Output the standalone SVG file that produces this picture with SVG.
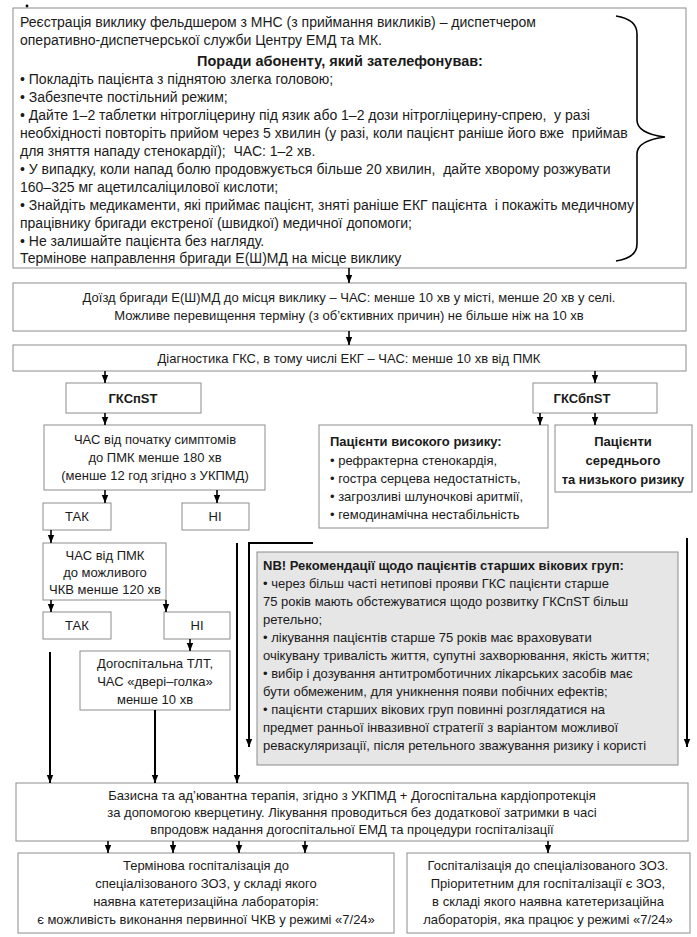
<svg xmlns="http://www.w3.org/2000/svg" width="697" height="937" viewBox="0 0 697 937">
<style>
.box{fill:#fff;stroke:#8c8c8c;stroke-width:1}
.nb{fill:#e6e6e6;stroke:#8c8c8c;stroke-width:1}
text{font-family:"Liberation Sans",Arial,sans-serif;font-size:13px;fill:#1a1a1a}
.t{font-size:14px}
.c{text-anchor:middle}
.b{font-weight:bold}
.h{font-weight:bold;font-size:14.5px}
.ln{stroke:#000;stroke-width:1.6;fill:none}
.lg{stroke:#000;stroke-width:2;fill:none}
</style>
<defs>
<marker id="ah" markerUnits="userSpaceOnUse" markerWidth="9" markerHeight="9" refX="8" refY="4" orient="auto">
<path d="M0,0.8 L8,4 L0,7.2 Z" fill="#000"/>
</marker>
</defs>
<rect width="697" height="937" fill="#fff"/>

<g id="n-top">
<rect class="box" x="13" y="8" width="673" height="260"/>
<circle cx="27" cy="6" r="1.4" fill="#000"/>
<text class="t" x="20" y="27">Реєстрація виклику фельдшером з МНС (з приймання викликів) – диспетчером</text>
<text class="t" x="20" y="45">оперативно-диспетчерської служби Центру ЕМД та МК.</text>
<text class="h c" x="340" y="66">Поради абоненту, який зателефонував:</text>
<text class="t" x="20" y="84">• Покладіть пацієнта з піднятою злегка головою;</text>
<text class="t" x="20" y="102">• Забезпечте постільний режим;</text>
<text class="t" x="20" y="120" xml:space="preserve">• Дайте 1–2 таблетки нітрогліцерину під язик або 1–2 дози нітрогліцерину-спрею,  у разі</text>
<text class="t" x="20" y="138" xml:space="preserve">необхідності повторіть прийом через 5 хвилин (у разі, коли пацієнт раніше його вже  приймав</text>
<text class="t" x="20" y="156" xml:space="preserve">для зняття нападу стенокардії);  ЧАС: 1–2 хв.</text>
<text class="t" x="20" y="174" xml:space="preserve">• У випадку, коли напад болю продовжується більше 20 хвилин,  дайте хворому розжувати</text>
<text class="t" x="20" y="192">160–325 мг ацетилсаліцилової кислоти;</text>
<text class="t" x="20" y="210" xml:space="preserve">• Знайдіть медикаменти, які приймає пацієнт, зняті раніше ЕКГ пацієнта  і покажіть медичному</text>
<text class="t" x="20" y="228">працівнику бригади екстреної (швидкої) медичної допомоги;</text>
<text class="t" x="20" y="246">• Не залишайте пацієнта без нагляду.</text>
<text class="t" x="20" y="263">Термінове направлення бригади Е(Ш)МД на місце виклику</text>
<path class="ln" d="M616,16 C629,18 637,24 637,34 L637,120 C637,130 649,135 665,137 C649,139 637,144 637,154 L637,244 C637,254 629,259 616,261"/>
</g>

<g id="n-arrival">
<rect class="box" x="13" y="283" width="673" height="48"/>
<text class="c" x="349" y="302">Доїзд бригади Е(Ш)МД до місця виклику – ЧАС: менше 10 хв у місті, менше 20 хв у селі.</text>
<text class="c" x="349" y="320">Можливе перевищення терміну (з об’єктивних причин) не більше ніж на 10 хв</text>
</g>

<g id="n-diag">
<rect class="box" x="13" y="345" width="673" height="26"/>
<text class="c" x="349" y="363">Діагностика ГКС, в тому числі ЕКГ – ЧАС: менше 10 хв від ПМК</text>
</g>

<g id="n-stemi">
<rect class="box" x="66" y="383" width="135" height="30"/>
<text class="c b" x="133" y="403">ГКСпST</text>
</g>

<g id="n-nstemi">
<rect class="box" x="533" y="383" width="124" height="30"/>
<text class="c b" x="582" y="403">ГКСбпST</text>
</g>

<g id="n-time180">
<rect class="box" x="44" y="425" width="221" height="65"/>
<text class="c" x="155" y="444">ЧАС від початку симптомів</text>
<text class="c" x="155" y="462">до ПМК менше 180 хв</text>
<text class="c" x="155" y="480">(менше 12 год згідно з УКПМД)</text>
</g>

<g id="n-highrisk">
<rect class="box" x="319" y="425" width="229" height="103"/>
<text class="b" x="330" y="446">Пацієнти високого ризику:</text>
<text x="330" y="465">• рефрактерна стенокардія,</text>
<text x="330" y="483">• гостра серцева недостатність,</text>
<text x="330" y="501">• загрозливі шлуночкові аритмії,</text>
<text x="330" y="519">• гемодинамічна нестабільність</text>
</g>

<g id="n-midrisk">
<rect class="box" x="555" y="425" width="137" height="67"/>
<text class="c b" x="623" y="446">Пацієнти</text>
<text class="c b" x="623" y="465">середнього</text>
<text class="c b" x="623" y="484">та низького ризику</text>
</g>

<g id="n-yes1">
<rect class="box" x="43" y="503" width="68" height="27"/>
<text class="c" x="77" y="521">ТАК</text>
</g>
<g id="n-no1">
<rect class="box" x="182" y="503" width="67" height="27"/>
<text class="c" x="215" y="521">НІ</text>
</g>

<g id="n-time120">
<rect class="box" x="43" y="543" width="123" height="57"/>
<text class="c" x="105" y="560">ЧАС від ПМК</text>
<text class="c" x="105" y="577">до можливого</text>
<text class="c" x="105" y="594">ЧКВ менше 120 хв</text>
</g>

<g id="n-yes2">
<rect class="box" x="43" y="612" width="68" height="27"/>
<text class="c" x="77" y="630">ТАК</text>
</g>
<g id="n-no2">
<rect class="box" x="164" y="612" width="66" height="27"/>
<text class="c" x="197" y="630">НІ</text>
</g>

<g id="n-tlt">
<rect class="box" x="80" y="651" width="150" height="59"/>
<text class="c" x="155" y="668">Догоспітальна ТЛТ,</text>
<text class="c" x="155" y="686">ЧАС «двері–голка»</text>
<text class="c" x="155" y="704">менше 10 хв</text>
</g>

<g id="n-nb">
<rect class="nb" x="257" y="552" width="421" height="213"/>
<text class="b" x="263" y="570">NB! Рекомендації щодо пацієнтів старших вікових груп:</text>
<text x="263" y="588">• через більш часті нетипові прояви ГКС пацієнти старше</text>
<text x="263" y="606">75 років мають обстежуватися щодо розвитку ГКСпST більш</text>
<text x="263" y="624">ретельно;</text>
<text x="263" y="642">• лікування пацієнтів старше 75 років має враховувати</text>
<text x="263" y="660">очікувану тривалість життя, супутні захворювання, якість життя;</text>
<text x="263" y="678">• вибір і дозування антитромботичних лікарських засобів має</text>
<text x="263" y="696">бути обмеженим, для уникнення появи побічних ефектів;</text>
<text x="263" y="714">• пацієнти старших вікових груп повинні розглядатися на</text>
<text x="263" y="732">предмет ранньої інвазивної стратегії з варіантом можливої</text>
<text x="263" y="750">реваскуляризації, після ретельного зважування ризику і користі</text>
</g>

<g id="n-therapy">
<rect class="box" x="16" y="783" width="672" height="58"/>
<text class="c" x="352" y="800">Базисна та ад’ювантна терапія, згідно з УКПМД + Догоспітальна кардіопротекція</text>
<text class="c" x="352" y="817">за допомогою кверцетину. Лікування проводиться без додаткової затримки в часі</text>
<text class="c" x="352" y="834">впродовж надання догоспітальної ЕМД та процедури госпіталізації</text>
</g>

<g id="n-hosp1">
<rect class="box" x="18" y="853" width="376" height="80"/>
<text class="c" x="206" y="870">Термінова госпіталізація до</text>
<text class="c" x="206" y="888">спеціалізованого ЗОЗ, у складі якого</text>
<text class="c" x="206" y="906">наявна катетеризаційна лабораторія:</text>
<text class="c" x="206" y="924">є можливість виконання первинної ЧКВ у режимі «7/24»</text>
</g>

<g id="n-hosp2">
<rect class="box" x="407" y="853" width="283" height="80"/>
<text class="c" x="548" y="870">Госпіталізація до спеціалізованого ЗОЗ.</text>
<text class="c" x="548" y="888">Пріоритетним для госпіталізації є ЗОЗ,</text>
<text class="c" x="548" y="906">в складі якого наявна катетеризаційна</text>
<text class="c" x="548" y="924">лабораторія, яка працює у режимі «7/24»</text>
</g>

<g id="connectors">
<line class="ln" x1="349" y1="268" x2="349" y2="283" marker-end="url(#ah)"/>
<line class="ln" x1="349" y1="331" x2="349" y2="345" marker-end="url(#ah)"/>
<line class="ln" x1="105" y1="371" x2="105" y2="383" marker-end="url(#ah)"/>
<line class="ln" x1="595" y1="371" x2="595" y2="383" marker-end="url(#ah)"/>
<line class="ln" x1="105" y1="413" x2="105" y2="425" marker-end="url(#ah)"/>
<line class="ln" x1="540" y1="413" x2="540" y2="425" marker-end="url(#ah)"/>
<line class="ln" x1="595" y1="413" x2="595" y2="425" marker-end="url(#ah)"/>
<line class="ln" x1="105" y1="490" x2="105" y2="503" marker-end="url(#ah)"/>
<line class="ln" x1="217" y1="490" x2="217" y2="503" marker-end="url(#ah)"/>
<line class="ln" x1="51" y1="530" x2="51" y2="543" marker-end="url(#ah)"/>
<line class="ln" x1="51" y1="600" x2="51" y2="612" marker-end="url(#ah)"/>
<line class="ln" x1="166" y1="600" x2="166" y2="612" marker-end="url(#ah)"/>
<line class="ln" x1="190" y1="639" x2="190" y2="651" marker-end="url(#ah)"/>
<line class="lg" x1="50" y1="652" x2="50" y2="783" marker-end="url(#ah)"/>
<line class="lg" x1="155" y1="710" x2="155" y2="783" marker-end="url(#ah)"/>
<line class="lg" x1="237" y1="543" x2="237" y2="783" marker-end="url(#ah)"/>
<path class="lg" d="M313,543 H249 V747" marker-end="url(#ah)"/>
<line class="lg" x1="687" y1="538" x2="687" y2="747" marker-end="url(#ah)"/>
<line class="ln" x1="108" y1="841" x2="108" y2="853" marker-end="url(#ah)"/>
<line class="ln" x1="173" y1="841" x2="173" y2="853" marker-end="url(#ah)"/>
<line class="ln" x1="239" y1="841" x2="239" y2="853" marker-end="url(#ah)"/>
<line class="ln" x1="305" y1="841" x2="305" y2="853" marker-end="url(#ah)"/>
<line class="ln" x1="548" y1="841" x2="548" y2="853" marker-end="url(#ah)"/>
</g>
</svg>
